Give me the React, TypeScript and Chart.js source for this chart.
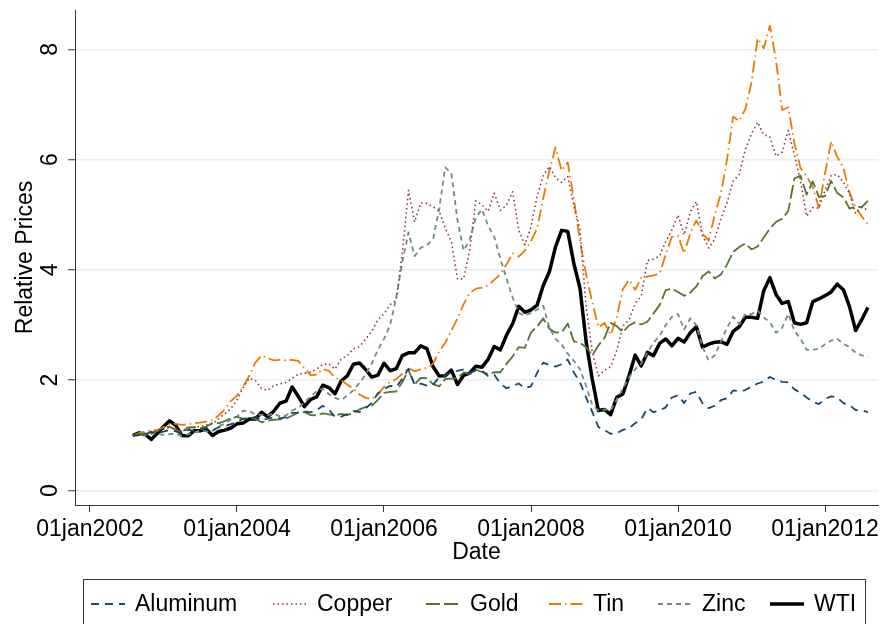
import React, { useEffect, useRef } from "react";
import { Chart, registerables } from "chart.js";

Chart.register(...registerables);

// Monthly observations, Aug 2002 .. Aug 2012 (relative to Aug 2002)
const firstYear = 2002;
const firstMonthIndex = 7; // August (0-based)

const xTickYears = [2002, 2004, 2006, 2008, 2010, 2012];
const yTickValues = [0, 2, 4, 6, 8];

const aluminum = [
  1.0, 1.006, 1.019, 1.063, 1.043,
  1.067, 1.097, 1.072, 1.03, 1.099, 1.087, 1.104, 1.133, 1.085, 1.148, 1.167, 1.203,
  1.244, 1.302, 1.288, 1.34, 1.264, 1.305, 1.326, 1.309, 1.331, 1.408, 1.412, 1.435,
  1.418, 1.456, 1.535, 1.465, 1.333, 1.34, 1.384, 1.445, 1.422, 1.49, 1.587, 1.762,
  1.84, 1.898, 1.881, 2.027, 2.21, 1.917, 1.939, 1.902, 1.914, 2.057, 2.081, 2.153,
  2.168, 2.196, 2.133, 2.179, 2.168, 2.073, 2.099, 1.938, 1.855, 1.894, 1.94, 1.855,
  1.889, 2.133, 2.319, 2.274, 2.247, 2.29, 2.375, 2.14, 1.962, 1.683, 1.427, 1.152,
  1.093, 1.029, 1.032, 1.1, 1.131, 1.218, 1.29, 1.496, 1.421, 1.452, 1.508, 1.686,
  1.729, 1.585, 1.759, 1.791, 1.581, 1.493, 1.537, 1.637, 1.672, 1.814, 1.8, 1.821,
  1.887, 1.94, 1.976, 2.059, 2.006, 1.971, 1.961, 1.834, 1.773, 1.686, 1.611, 1.565,
  1.661, 1.708, 1.688, 1.583, 1.549, 1.459, 1.452, 1.422,
];

const copper = [
  1.0, 1.002, 1.002, 1.074, 1.079,
  1.115, 1.139, 1.124, 1.074, 1.115, 1.141, 1.158, 1.191, 1.211, 1.302, 1.391, 1.489,
  1.639, 1.867, 2.035, 1.995, 1.848, 1.817, 1.9, 1.934, 1.959, 2.035, 2.11, 2.127,
  2.145, 2.202, 2.286, 2.296, 2.199, 2.384, 2.445, 2.57, 2.61, 2.746, 2.888, 3.097,
  3.203, 3.371, 3.453, 4.321, 5.444, 4.869, 5.218, 5.206, 5.143, 5.074, 4.756, 4.516,
  3.836, 3.84, 4.365, 5.254, 5.179, 5.062, 5.392, 5.081, 5.176, 5.417, 4.715, 4.457,
  4.777, 5.337, 5.71, 5.876, 5.672, 5.589, 5.693, 5.165, 4.729, 3.333, 2.515, 2.078,
  2.179, 2.242, 2.537, 2.982, 3.091, 3.392, 3.529, 4.171, 4.192, 4.254, 4.517, 4.724,
  4.997, 4.633, 5.049, 5.24, 4.627, 4.397, 4.557, 4.928, 5.216, 5.61, 5.731, 6.189,
  6.465, 6.677, 6.448, 6.416, 6.062, 6.135, 6.529, 6.089, 5.616, 4.973, 5.129, 5.119,
  5.443, 5.711, 5.731, 5.591, 5.386, 5.022, 5.131, 5.085,
];

const gold = [
  1.0, 1.029, 1.02, 1.029, 1.074,
  1.15, 1.157, 1.098, 1.058, 1.146, 1.149, 1.131, 1.16, 1.221, 1.221, 1.257, 1.314,
  1.334, 1.305, 1.311, 1.299, 1.237, 1.265, 1.283, 1.291, 1.306, 1.355, 1.416, 1.425,
  1.366, 1.364, 1.399, 1.382, 1.36, 1.388, 1.368, 1.411, 1.47, 1.514, 1.536, 1.643,
  1.772, 1.789, 1.795, 1.968, 2.18, 1.921, 2.042, 2.039, 1.928, 1.888, 2.023, 2.03,
  2.034, 2.142, 2.111, 2.19, 2.149, 2.113, 2.144, 2.144, 2.297, 2.432, 2.598, 2.588,
  2.867, 2.972, 3.121, 2.932, 2.864, 2.867, 3.029, 2.704, 2.675, 2.599, 2.452, 2.63,
  2.767, 3.04, 2.979, 2.869, 2.993, 3.048, 3.011, 3.06, 3.212, 3.362, 3.632, 3.657,
  3.6, 3.53, 3.588, 3.702, 3.885, 3.973, 3.845, 3.918, 4.096, 4.325, 4.415, 4.481,
  4.371, 4.424, 4.589, 4.75, 4.868, 4.927, 5.069, 5.658, 5.71, 5.366, 5.604, 5.325,
  5.337, 5.614, 5.394, 5.318, 5.11, 5.146, 5.138, 5.254,
];

const tin = [
  1.0, 1.04, 1.07, 1.09, 1.1,
  1.15, 1.2, 1.21, 1.19, 1.2, 1.22, 1.23, 1.25, 1.28, 1.36, 1.47, 1.62,
  1.72, 1.88, 2.08, 2.32, 2.45, 2.4, 2.36, 2.37, 2.36, 2.37, 2.35, 2.22,
  2.09, 2.1, 2.2, 2.17, 2.05, 2.0, 1.92, 1.85, 1.74, 1.68, 1.66, 1.74,
  1.88, 1.97, 2.02, 2.12, 2.22, 2.16, 2.2, 2.22, 2.3, 2.52, 2.68, 2.9,
  3.12, 3.38, 3.58, 3.66, 3.68, 3.72, 3.82, 3.92, 4.1, 4.3, 4.24, 4.35,
  4.52, 4.75, 5.3, 5.8, 6.22, 5.8, 5.95, 5.28, 4.52, 3.92, 3.42, 2.96,
  3.04, 2.82, 3.15, 3.65, 3.82, 3.64, 3.86, 3.88, 3.9, 3.93, 4.28, 4.6,
  4.62, 4.3, 4.66, 4.9, 4.66, 4.53, 5.0, 5.38, 6.0, 6.78, 6.7, 6.92,
  7.4, 8.2, 8.02, 8.43, 7.8, 6.9, 6.95, 6.3, 5.85, 5.7, 5.5, 5.13,
  5.75, 6.33, 6.05, 5.85, 5.4, 5.13, 4.97, 4.83,
];

const zinc = [
  1.0, 0.99, 1.0, 1.04, 1.03,
  1.01, 1.02, 1.03, 0.99, 1.02, 1.05, 1.09, 1.07, 1.08, 1.17, 1.21, 1.29,
  1.34, 1.45, 1.44, 1.38, 1.37, 1.36, 1.4, 1.34, 1.36, 1.45, 1.5, 1.6,
  1.7, 1.8, 1.85, 1.75, 1.68, 1.64, 1.72, 1.82, 1.95, 2.1, 2.3, 2.55,
  2.75, 3.0, 3.5, 4.15, 4.68, 4.25, 4.4, 4.45, 4.55, 5.1, 5.86, 5.75,
  4.9, 4.35, 4.55, 4.95, 5.1, 4.8, 4.6, 4.2, 3.85, 3.5, 3.22, 3.17,
  3.22, 3.28, 3.35, 2.95, 2.75, 2.65, 2.48, 2.35, 2.2, 1.9, 1.55, 1.45,
  1.47, 1.45, 1.65, 1.85, 2.05, 2.2, 2.3, 2.5, 2.68, 2.8, 3.0, 3.15,
  3.2, 2.92, 3.12, 3.0, 2.6, 2.36, 2.45, 2.7, 2.95, 3.15, 3.02, 3.2,
  3.2, 3.26, 3.14, 3.05, 2.86, 2.95, 3.2, 2.9, 2.75, 2.55, 2.55, 2.57,
  2.65, 2.72, 2.75, 2.66, 2.6, 2.5, 2.45, 2.42,
];

const wti = [
  1.0, 1.045, 1.017, 0.926, 1.037,
  1.161, 1.264, 1.182, 0.995, 0.992, 1.082, 1.084, 1.113, 0.997, 1.069, 1.095, 1.133,
  1.209, 1.222, 1.295, 1.295, 1.419, 1.34, 1.437, 1.582, 1.619, 1.877, 1.708, 1.52,
  1.65, 1.697, 1.909, 1.867, 1.756, 1.986, 2.079, 2.29, 2.311, 2.194, 2.055, 2.093,
  2.308, 2.172, 2.209, 2.447, 2.496, 2.5, 2.622, 2.574, 2.248, 2.075, 2.082, 2.183,
  1.921, 2.089, 2.13, 2.254, 2.236, 2.378, 2.612, 2.55, 2.816, 3.023, 3.339, 3.231,
  3.276, 3.361, 3.716, 3.967, 4.419, 4.717, 4.699, 4.111, 3.668, 2.699, 2.019, 1.449,
  1.47, 1.377, 1.689, 1.749, 2.08, 2.454, 2.26, 2.504, 2.446, 2.668, 2.748, 2.624,
  2.76, 2.692, 2.861, 2.97, 2.598, 2.655, 2.689, 2.699, 2.651, 2.885, 2.969, 3.141,
  3.142, 3.121, 3.624, 3.859, 3.555, 3.392, 3.428, 3.042, 3.013, 3.042, 3.424, 3.473,
  3.533, 3.601, 3.741, 3.641, 3.335, 2.9, 3.097, 3.317,
];

const seriesNames = ["Aluminum", "Copper", "Gold", "Tin", "Zinc", "WTI"];
const seriesValues = [aluminum, copper, gold, tin, zinc, wti];

const styles = [
  { color: "#1a476f", width: 1.8, dash: [8, 6] },
  { color: "#90353b", width: 1.6, dash: [1.5, 3] },
  { color: "#55752f", width: 1.8, dash: [14, 4] },
  { color: "#e37e00", width: 1.8, dash: [12, 4, 1.5, 4] },
  { color: "#6e8e84", width: 1.8, dash: [5, 4] },
  { color: "#000000", width: 3.5, dash: [] as number[] },
];

const FONT = '"Liberation Sans", Arial, Helvetica, sans-serif';
const legendTextX = [135, 317, 470, 593, 702, 814];

const toPoints = (vals: number[]) =>
  vals.map((v, i) => ({ x: firstYear + (firstMonthIndex + i) / 12, y: v }));

const customDraw = {
  id: "customDraw",
  afterDraw(chart: any) {
    const ctx = chart.ctx as CanvasRenderingContext2D;
    const ys = chart.scales.y;
    ctx.save();
    ctx.font = `23px ${FONT}`;
    ctx.fillStyle = "#000";
    ctx.textAlign = "center";
    ctx.textBaseline = "middle";
    yTickValues.forEach((v) => {
      const py = ys.getPixelForValue(v);
      ctx.save();
      ctx.translate(50, py);
      ctx.rotate(-Math.PI / 2);
      ctx.fillText(String(v), 0, 1);
      ctx.restore();
    });
    // legend box
    ctx.strokeStyle = "#333";
    ctx.lineWidth = 1;
    ctx.setLineDash([]);
    ctx.strokeRect(83.5, 579.5, 782, 70);
    const ly = 604;
    seriesNames.forEach((name, i) => {
      const st = styles[i];
      const tx = legendTextX[i];
      ctx.save();
      ctx.strokeStyle = st.color;
      ctx.lineWidth = st.width;
      ctx.setLineDash(st.dash);
      ctx.beginPath();
      ctx.moveTo(tx - 44, ly);
      ctx.lineTo(tx - 10, ly);
      ctx.stroke();
      ctx.restore();
      ctx.textAlign = "left";
      ctx.textBaseline = "middle";
      ctx.fillStyle = "#000";
      ctx.fillText(name, tx, ly + 1);
    });
    ctx.restore();
  },
};

export default function App() {
  const ref = useRef<HTMLCanvasElement | null>(null);
  useEffect(() => {
    if (!ref.current) return;
    const chart = new Chart(ref.current, {
      type: "line",
      data: {
        datasets: seriesNames.map((name, i) => ({
          label: name,
          data: toPoints(seriesValues[i]),
          borderColor: styles[i].color,
          borderWidth: styles[i].width,
          borderDash: styles[i].dash,
          pointRadius: 0,
          tension: 0,
          fill: false,
          borderJoinStyle: "round" as const,
        })),
      },
      options: {
        animation: false,
        responsive: false,
        layout: { padding: { top: 10, right: 8, left: 0, bottom: 0 } },
        plugins: { legend: { display: false }, tooltip: { enabled: false } },
        scales: {
          x: {
            type: "linear",
            min: 2001.796,
            max: 2012.721,
            afterBuildTicks: (s: any) => {
              s.ticks = xTickYears.map((v) => ({ value: v }));
            },
            afterFit: (s: any) => {
              s.height = 119;
            },
            grid: {
              drawOnChartArea: false,
              drawTicks: true,
              tickLength: 7,
              tickColor: "#333",
              tickWidth: 1,
            },
            border: { display: true, color: "#333", width: 1 },
            ticks: {
              color: "#000",
              font: { family: FONT, size: 23 },
              padding: 4,
              maxRotation: 0,
              autoSkip: false,
              callback: (v: any) => "01jan" + v,
            },
            title: {
              display: true,
              text: "Date",
              color: "#000",
              font: { family: FONT, size: 23 },
              padding: { top: 0, bottom: 58 },
            },
          },
          y: {
            type: "linear",
            min: -0.263,
            max: 8.713,
            afterBuildTicks: (s: any) => {
              s.ticks = yTickValues.map((v) => ({ value: v }));
            },
            afterFit: (s: any) => {
              s.width = 75;
            },
            grid: {
              color: "#e8eff2",
              lineWidth: 1.5,
              tickColor: "#333",
              tickLength: 7,
              tickWidth: 1,
            },
            border: { display: true, color: "#333", width: 1 },
            ticks: { display: false },
            title: {
              display: true,
              text: "Relative Prices",
              color: "#000",
              font: { family: FONT, size: 23 },
              padding: { top: 12, bottom: 0 },
            },
          },
        },
      },
      plugins: [customDraw],
    });
    return () => chart.destroy();
  }, []);
  return (
    <div style={{ position: "fixed", left: 0, top: 0, width: 886, height: 624, background: "#fff" }}>
      <canvas ref={ref} width={886} height={624} style={{ display: "block" }} />
    </div>
  );
}
